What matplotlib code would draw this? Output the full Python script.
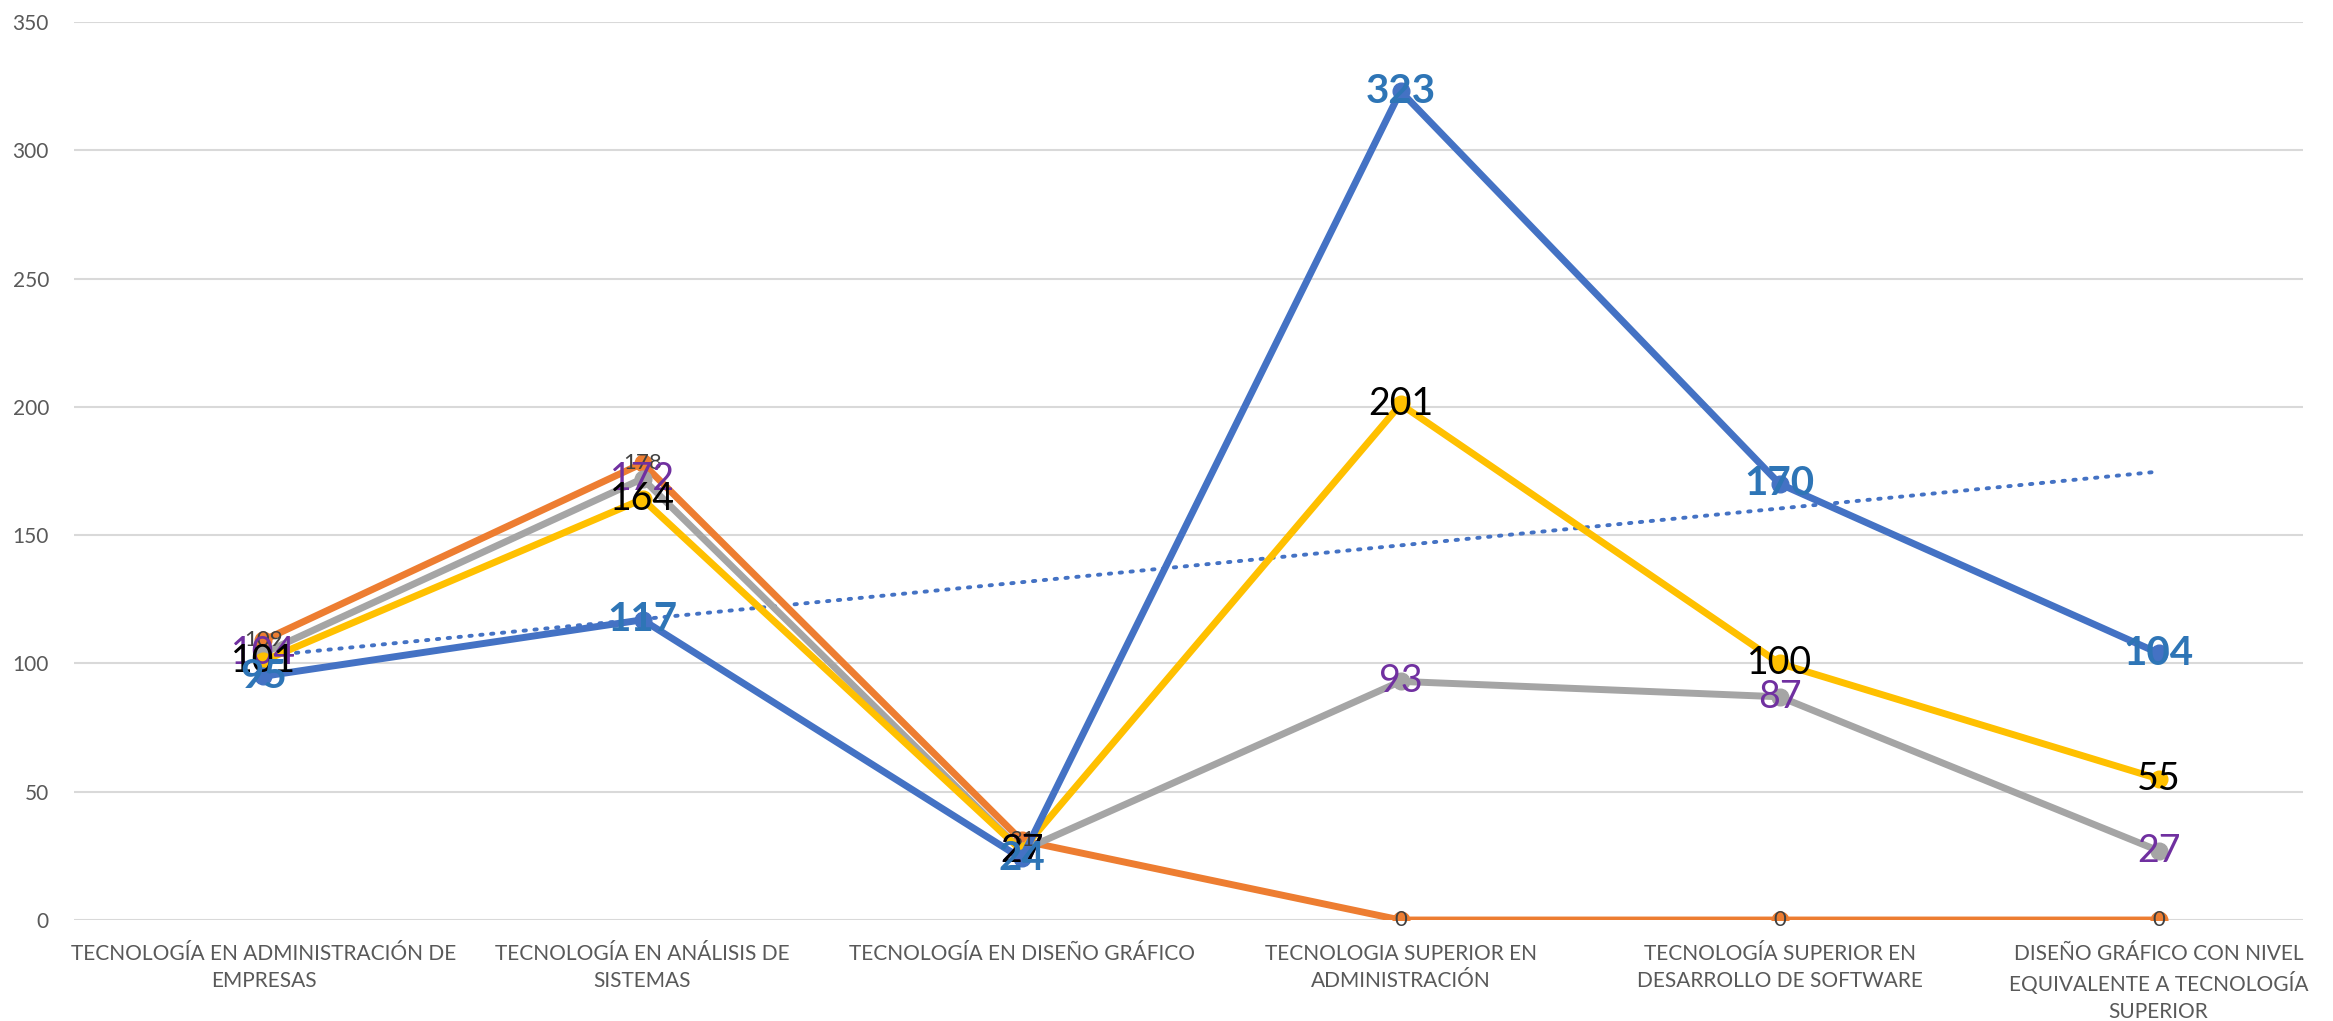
import numpy as np
import matplotlib
matplotlib.use("Agg")
import matplotlib.pyplot as plt

plt.rcParams['font.family'] = ['Lato', 'DejaVu Sans']

categories = [
    "TECNOLOGÍA EN ADMINISTRACIÓN DE\nEMPRESAS",
    "TECNOLOGÍA EN ANÁLISIS DE\nSISTEMAS",
    "TECNOLOGÍA EN DISEÑO GRÁFICO",
    "TECNOLOGIA SUPERIOR EN\nADMINISTRACIÓN",
    "TECNOLOGÍA SUPERIOR EN\nDESARROLLO DE SOFTWARE",
    "DISEÑO GRÁFICO CON NIVEL\nEQUIVALENTE A TECNOLOGÍA\nSUPERIOR",
]
blue_vals = [95, 117, 24, 323, 170, 104]
orange_vals = [109, 178, 31, 0, 0, 0]
grey_vals = [104, 172, 27, 93, 87, 27]
yellow_vals = [101, 164, 27, 201, 100, 55]
yticks = [0, 50, 100, 150, 200, 250, 300, 350]

# (values, line colour, label colour, label size, bold)
series = [
    (orange_vals, "#ED7D31", "#404040", 16, False),
    (grey_vals, "#A5A5A5", "#7030A0", 27, False),
    (yellow_vals, "#FFC000", "#000000", 27, False),
    (blue_vals, "#4472C4", "#2E75B6", 29, True),
]

fig = plt.figure(figsize=(23.33, 10.21), dpi=100)
ax = fig.add_axes([0.0317, 0.0989, 0.9553, 0.8796])
x = np.arange(len(categories))

for vals, col, lcol, lsize, bold in series:
    ax.plot(x, vals, color=col, lw=5, marker='o', ms=12, zorder=3)

# linear trend line of the blue series
coef = np.polyfit(x, blue_vals, 1)
ax.plot(x, np.polyval(coef, x), color="#4472C4", lw=2.8, ls=(0, (0.6, 2.2)),
        dash_capstyle='round', zorder=2)

for vals, col, lcol, lsize, bold in series:
    for xi, v in zip(x, vals):
        ax.text(xi, v, str(v), ha='center', va='center', color=lcol,
                fontsize=lsize, fontweight='bold' if bold else 'normal', zorder=5)

ax.set_xlim(-0.5, 5.38)
ax.set_ylim(0, 350)
ax.set_yticks(yticks)
ax.set_xticks(x)
ax.set_xticklabels(categories, fontsize=15, color="#595959", linespacing=1.45, va='top')
ax.tick_params(axis='y', labelsize=15, labelcolor="#595959", length=0, pad=18)
ax.tick_params(axis='x', length=0, pad=17)
ax.grid(axis='y', color="#D9D9D9", lw=1.5, zorder=0)
for s in ax.spines.values():
    s.set_visible(False)
ax.set_axisbelow(True)

fig.savefig("out.png", dpi=100)
